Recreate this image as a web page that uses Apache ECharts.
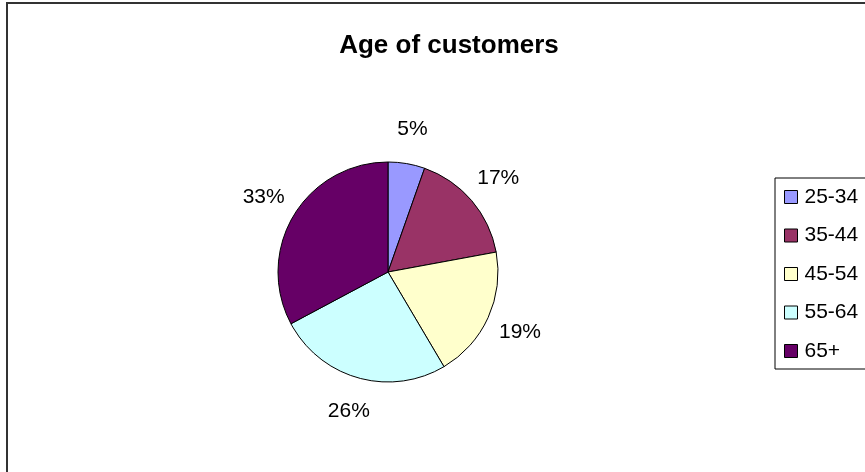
<!DOCTYPE html>
<html>
<head>
<meta charset="utf-8">
<script src="https://cdn.jsdelivr.net/npm/echarts@6/dist/echarts.min.js"></script>
<style>
html,body{margin:0;padding:0;background:#fff;}
#chart{width:865px;height:472px;}
</style>
</head>
<body>
<div id="chart"></div>
<script>
var titleText = 'Age of customers';
var categories = ['25-34', '35-44', '45-54', '55-64', '65+'];
var shares = [5.4, 16.7, 19.4, 25.7, 32.8];
var colors = ['#9999FF', '#993366', '#FFFFCC', '#CCFFFF', '#660066'];

var FONT = '"Liberation Sans", Arial, sans-serif';
var pieData = categories.map(function (c, i) {
  return { name: c, value: shares[i], itemStyle: { color: colors[i] } };
});
var labelData = categories.map(function (c, i) {
  return { name: c, value: shares[i] };
});

var chart = echarts.init(document.getElementById('chart'), null, { renderer: 'canvas' });
chart.setOption({
  animation: false,
  backgroundColor: '#ffffff',
  title: {
    text: titleText,
    left: 444,
    textAlign: 'center',
    top: 28,
    textStyle: { fontFamily: FONT, fontSize: 26, fontWeight: 'bold', color: '#000' }
  },
  legend: {
    orient: 'vertical',
    left: 775,
    top: 178,
    data: categories,
    icon: 'rect',
    itemWidth: 13,
    itemHeight: 13,
    itemGap: 17.5,
    padding: [8.5, 40, 7.5, 9],
    borderColor: '#000',
    borderWidth: 1,
    backgroundColor: '#fff',
    itemStyle: { borderColor: '#000', borderWidth: 1 },
    textStyle: { fontFamily: FONT, fontSize: 21, lineHeight: 21, color: '#000', padding: [0, 0, 0, 2] }
  },
  graphic: [{
    type: 'rect',
    shape: { x: 7, y: 3, width: 900, height: 500 },
    style: { fill: 'none', stroke: '#333333', lineWidth: 2 },
    z: 100,
    silent: true
  }],
  series: [
    {
      type: 'pie',
      center: [388, 272],
      radius: [0, 110],
      startAngle: 90,
      clockwise: true,
      avoidLabelOverlap: false,
      label: { show: false },
      labelLine: { show: false },
      itemStyle: { borderColor: '#000', borderWidth: 1 },
      emphasis: { disabled: true },
      data: pieData
    },
    {
      type: 'pie',
      center: [388, 272],
      radius: [110, 174],
      startAngle: 90,
      clockwise: true,
      silent: true,
      avoidLabelOverlap: false,
      legendHoverLink: false,
      itemStyle: { color: 'rgba(0,0,0,0)', borderWidth: 0 },
      label: {
        show: true,
        position: 'inside',
        rotate: 0,
        fontFamily: FONT,
        fontSize: 21,
        color: '#000',
        formatter: function (p) { return Math.round(p.percent) + '%'; }
      },
      labelLine: { show: false },
      emphasis: { disabled: true },
      data: labelData
    }
  ]
});
</script>
</body>
</html>
